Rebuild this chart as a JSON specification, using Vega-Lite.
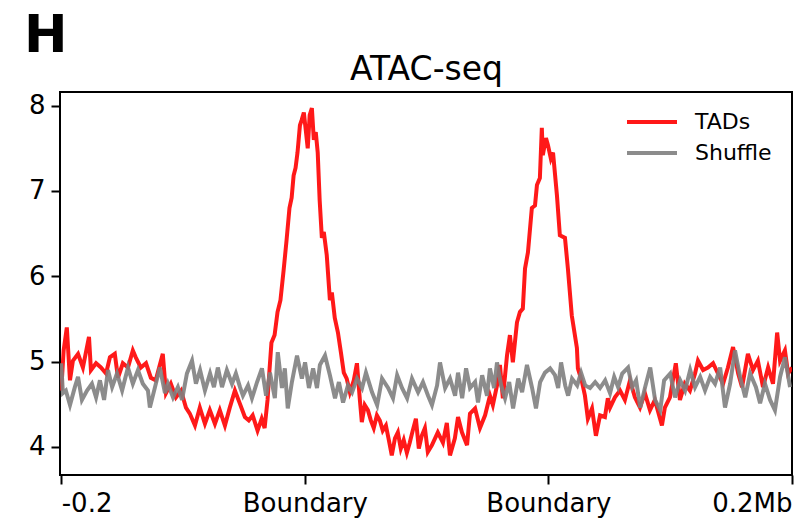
{
  "$schema": "https://vega.github.io/schema/vega-lite/v6.json",
  "width": 732,
  "height": 383,
  "autosize": {"type": "none"},
  "padding": {"left": 60, "top": 92, "right": 9, "bottom": 51},
  "background": "white",
  "title": {
    "text": "H",
    "anchor": "start",
    "frame": "group",
    "dx": -36,
    "offset": -51,
    "baseline": "alphabetic",
    "font": "DejaVu Sans",
    "fontSize": 52,
    "fontWeight": "bold",
    "color": "black"
  },
  "config": {
    "font": "DejaVu Sans",
    "view": {"stroke": "black", "strokeWidth": 2},
    "axis": {
      "grid": false,
      "domain": false,
      "labelFont": "DejaVu Sans",
      "labelFontSize": 26,
      "labelColor": "black",
      "tickColor": "black",
      "tickWidth": 2,
      "tickSize": 9,
      "titleFont": "DejaVu Sans",
      "titleColor": "black",
      "titleFontWeight": "normal"
    },
    "legend": {
      "labelFont": "DejaVu Sans",
      "labelFontSize": 22,
      "labelColor": "black"
    }
  },
  "datasets": {
    "tads": [
      {"bin": 0, "value": 4.66}, {"bin": 1, "value": 5.13}, {"bin": 2.3, "value": 5.4}, {"bin": 3.6, "value": 4.78},
      {"bin": 4.8, "value": 5.01}, {"bin": 6.9, "value": 5.09}, {"bin": 8.9, "value": 4.93}, {"bin": 11.4, "value": 5.29},
      {"bin": 12.2, "value": 4.9}, {"bin": 14.3, "value": 4.98}, {"bin": 16.3, "value": 4.93}, {"bin": 18.4, "value": 4.86},
      {"bin": 20, "value": 5.05}, {"bin": 22, "value": 5.09}, {"bin": 23.3, "value": 4.81}, {"bin": 25.3, "value": 4.98},
      {"bin": 27.4, "value": 4.93}, {"bin": 29.4, "value": 5.13}, {"bin": 30.6, "value": 5.05}, {"bin": 32.7, "value": 4.93},
      {"bin": 34.8, "value": 4.98}, {"bin": 36.8, "value": 4.81}, {"bin": 38.8, "value": 4.78}, {"bin": 41.7, "value": 5.09},
      {"bin": 43, "value": 4.63}, {"bin": 45, "value": 4.74}, {"bin": 47.1, "value": 4.58}, {"bin": 49.2, "value": 4.66},
      {"bin": 51.2, "value": 4.46}, {"bin": 52.8, "value": 4.39}, {"bin": 54.9, "value": 4.25}, {"bin": 56.9, "value": 4.46},
      {"bin": 59, "value": 4.27}, {"bin": 61, "value": 4.43}, {"bin": 63.1, "value": 4.27}, {"bin": 65.1, "value": 4.43},
      {"bin": 67.2, "value": 4.25}, {"bin": 69.2, "value": 4.46}, {"bin": 71.3, "value": 4.66}, {"bin": 73.3, "value": 4.51},
      {"bin": 75.4, "value": 4.35}, {"bin": 77, "value": 4.31}, {"bin": 78.6, "value": 4.37}, {"bin": 80.6, "value": 4.19},
      {"bin": 82.3, "value": 4.33}, {"bin": 83.5, "value": 4.22}, {"bin": 84.7, "value": 4.55}, {"bin": 85.5, "value": 4.9},
      {"bin": 86.3, "value": 5.22}, {"bin": 87.6, "value": 5.31}, {"bin": 88.8, "value": 5.58}, {"bin": 90, "value": 5.72},
      {"bin": 91.3, "value": 6.07}, {"bin": 92.5, "value": 6.42}, {"bin": 93.7, "value": 6.8}, {"bin": 94.6, "value": 6.92},
      {"bin": 95.4, "value": 7.18}, {"bin": 96.2, "value": 7.27}, {"bin": 97, "value": 7.45}, {"bin": 98, "value": 7.77},
      {"bin": 98.7, "value": 7.83}, {"bin": 99.6, "value": 7.92}, {"bin": 100.4, "value": 7.71}, {"bin": 101.2, "value": 7.5},
      {"bin": 102, "value": 7.89}, {"bin": 102.9, "value": 7.97}, {"bin": 103.7, "value": 7.6}, {"bin": 104.5, "value": 7.69},
      {"bin": 105.3, "value": 7.45}, {"bin": 106.1, "value": 6.89}, {"bin": 107, "value": 6.45}, {"bin": 107.8, "value": 6.52},
      {"bin": 109, "value": 6.25}, {"bin": 110.3, "value": 5.72}, {"bin": 111.1, "value": 5.81}, {"bin": 112.3, "value": 5.51},
      {"bin": 113.6, "value": 5.34}, {"bin": 114.8, "value": 5.11}, {"bin": 116, "value": 4.87}, {"bin": 117.2, "value": 4.8},
      {"bin": 118.5, "value": 4.64}, {"bin": 120.1, "value": 4.78}, {"bin": 121.4, "value": 4.98}, {"bin": 122.6, "value": 4.55},
      {"bin": 123.4, "value": 4.29}, {"bin": 124.6, "value": 4.49}, {"bin": 125.9, "value": 4.43}, {"bin": 127.1, "value": 4.31},
      {"bin": 128.3, "value": 4.22}, {"bin": 129.6, "value": 4.37}, {"bin": 130.8, "value": 4.31}, {"bin": 132, "value": 4.19},
      {"bin": 133.3, "value": 4.25}, {"bin": 134.5, "value": 4.08}, {"bin": 135.7, "value": 3.9}, {"bin": 137, "value": 4.1},
      {"bin": 138.2, "value": 4.17}, {"bin": 139.4, "value": 3.98}, {"bin": 140.6, "value": 4.08}, {"bin": 141.9, "value": 3.93},
      {"bin": 143.1, "value": 4.05}, {"bin": 144.3, "value": 4.19}, {"bin": 145.6, "value": 4.33}, {"bin": 146.8, "value": 3.98},
      {"bin": 148, "value": 4.13}, {"bin": 149.3, "value": 4.22}, {"bin": 150.5, "value": 3.94}, {"bin": 152.2, "value": 4.02},
      {"bin": 154.6, "value": 4.17}, {"bin": 156.7, "value": 4.05}, {"bin": 158.3, "value": 4.28}, {"bin": 159.6, "value": 3.9},
      {"bin": 161.6, "value": 4.1}, {"bin": 162.9, "value": 4.35}, {"bin": 164.5, "value": 4.17}, {"bin": 166.6, "value": 4.02},
      {"bin": 167.8, "value": 4.39}, {"bin": 169.9, "value": 4.45}, {"bin": 171.9, "value": 4.22}, {"bin": 174, "value": 4.37},
      {"bin": 176, "value": 4.6}, {"bin": 177.2, "value": 4.49}, {"bin": 178.9, "value": 4.72}, {"bin": 180.1, "value": 4.96},
      {"bin": 181.3, "value": 4.57}, {"bin": 183, "value": 5.07}, {"bin": 184.2, "value": 5.31}, {"bin": 185.4, "value": 4.99},
      {"bin": 187.1, "value": 5.46}, {"bin": 188.3, "value": 5.58}, {"bin": 189.5, "value": 5.62}, {"bin": 190.4, "value": 6.09},
      {"bin": 191.6, "value": 6.28}, {"bin": 193.2, "value": 6.8}, {"bin": 194.5, "value": 6.83}, {"bin": 195.3, "value": 7.07},
      {"bin": 196.5, "value": 7.15}, {"bin": 197.3, "value": 7.74}, {"bin": 197.7, "value": 7.42}, {"bin": 199, "value": 7.62},
      {"bin": 199.8, "value": 7.54}, {"bin": 201, "value": 7.38}, {"bin": 201.9, "value": 7.45}, {"bin": 203.5, "value": 6.95},
      {"bin": 204.7, "value": 6.48}, {"bin": 206.8, "value": 6.45}, {"bin": 208, "value": 6.09}, {"bin": 209.6, "value": 5.54},
      {"bin": 211.7, "value": 5.16}, {"bin": 212.1, "value": 4.92}, {"bin": 213.8, "value": 4.76}, {"bin": 215, "value": 4.6},
      {"bin": 216.2, "value": 4.33}, {"bin": 217.9, "value": 4.45}, {"bin": 219.5, "value": 4.13}, {"bin": 221.2, "value": 4.37},
      {"bin": 223.2, "value": 4.35}, {"bin": 224.4, "value": 4.57}, {"bin": 225.3, "value": 4.46}, {"bin": 227.3, "value": 4.58},
      {"bin": 229.4, "value": 4.66}, {"bin": 231.4, "value": 4.55}, {"bin": 233.5, "value": 4.78}, {"bin": 235.5, "value": 4.58},
      {"bin": 237.6, "value": 4.46}, {"bin": 239.6, "value": 4.63}, {"bin": 241.7, "value": 4.43}, {"bin": 243.7, "value": 4.55},
      {"bin": 246.6, "value": 4.25}, {"bin": 247.8, "value": 4.46}, {"bin": 249.9, "value": 4.58}, {"bin": 252.3, "value": 4.98},
      {"bin": 254, "value": 4.55}, {"bin": 256, "value": 4.74}, {"bin": 258.1, "value": 4.66}, {"bin": 260.2, "value": 4.86},
      {"bin": 261.4, "value": 5.01}, {"bin": 263.5, "value": 4.9}, {"bin": 265.5, "value": 4.93}, {"bin": 267.6, "value": 4.98},
      {"bin": 269.6, "value": 4.86}, {"bin": 271.7, "value": 4.74}, {"bin": 273.7, "value": 4.93}, {"bin": 275.8, "value": 5.17},
      {"bin": 277.9, "value": 4.86}, {"bin": 279.5, "value": 4.7}, {"bin": 281.9, "value": 5.09}, {"bin": 284, "value": 4.9},
      {"bin": 286, "value": 5.01}, {"bin": 288.1, "value": 4.7}, {"bin": 290.2, "value": 4.93}, {"bin": 292.2, "value": 4.74},
      {"bin": 293.9, "value": 5.34}, {"bin": 295.1, "value": 5.01}, {"bin": 297.1, "value": 5.13}, {"bin": 298.4, "value": 4.86},
      {"bin": 300, "value": 4.93}
    ],
    "shuffle": [
      {"bin": 0, "value": 4.98}, {"bin": 0.7, "value": 4.63}, {"bin": 1.9, "value": 4.66}, {"bin": 3.6, "value": 4.49},
      {"bin": 5.6, "value": 4.7}, {"bin": 6.9, "value": 4.82}, {"bin": 8.5, "value": 4.55}, {"bin": 10.6, "value": 4.66},
      {"bin": 12.6, "value": 4.74}, {"bin": 14.3, "value": 4.58}, {"bin": 15.9, "value": 4.78}, {"bin": 17.6, "value": 4.55},
      {"bin": 19.2, "value": 4.9}, {"bin": 20.9, "value": 4.7}, {"bin": 22.9, "value": 4.86}, {"bin": 25, "value": 4.66},
      {"bin": 27.4, "value": 4.93}, {"bin": 29.4, "value": 4.74}, {"bin": 31.5, "value": 4.9}, {"bin": 33.5, "value": 4.74},
      {"bin": 35.6, "value": 4.66}, {"bin": 36.4, "value": 4.46}, {"bin": 38.5, "value": 4.7}, {"bin": 40.5, "value": 4.93},
      {"bin": 42.6, "value": 4.63}, {"bin": 43.8, "value": 4.74}, {"bin": 45.9, "value": 4.58}, {"bin": 47.9, "value": 4.7},
      {"bin": 49.6, "value": 4.55}, {"bin": 51.6, "value": 4.86}, {"bin": 53.7, "value": 5.01}, {"bin": 55.3, "value": 4.74},
      {"bin": 57, "value": 4.9}, {"bin": 59, "value": 4.66}, {"bin": 61.1, "value": 4.86}, {"bin": 62.7, "value": 4.7},
      {"bin": 64.3, "value": 4.93}, {"bin": 66, "value": 4.7}, {"bin": 68, "value": 4.9}, {"bin": 70.1, "value": 4.74},
      {"bin": 71.7, "value": 4.86}, {"bin": 73.4, "value": 4.7}, {"bin": 74.6, "value": 4.6}, {"bin": 76.7, "value": 4.72},
      {"bin": 78.3, "value": 4.57}, {"bin": 80.4, "value": 4.76}, {"bin": 82.4, "value": 4.92}, {"bin": 84.1, "value": 4.6},
      {"bin": 85.7, "value": 4.87}, {"bin": 87.7, "value": 4.57}, {"bin": 88.9, "value": 5.11}, {"bin": 90.6, "value": 4.69},
      {"bin": 91.8, "value": 4.92}, {"bin": 93, "value": 4.45}, {"bin": 94.7, "value": 4.76}, {"bin": 96.8, "value": 5.07},
      {"bin": 98.8, "value": 4.8}, {"bin": 100.1, "value": 4.99}, {"bin": 101.7, "value": 4.69}, {"bin": 103.4, "value": 4.92},
      {"bin": 105, "value": 4.69}, {"bin": 106.2, "value": 4.96}, {"bin": 108.3, "value": 5.07}, {"bin": 110.3, "value": 4.84},
      {"bin": 112.4, "value": 4.57}, {"bin": 114, "value": 4.76}, {"bin": 115.7, "value": 4.52}, {"bin": 117.7, "value": 4.72},
      {"bin": 119.4, "value": 4.64}, {"bin": 121.4, "value": 4.8}, {"bin": 123.5, "value": 4.69}, {"bin": 125.1, "value": 4.87},
      {"bin": 127.6, "value": 4.64}, {"bin": 129.7, "value": 4.49}, {"bin": 131.7, "value": 4.8}, {"bin": 134.2, "value": 4.69},
      {"bin": 136.2, "value": 4.57}, {"bin": 137.9, "value": 4.84}, {"bin": 139.9, "value": 4.69}, {"bin": 142, "value": 4.57},
      {"bin": 144, "value": 4.8}, {"bin": 146.5, "value": 4.64}, {"bin": 148.5, "value": 4.76}, {"bin": 150.6, "value": 4.6},
      {"bin": 152.2, "value": 4.49}, {"bin": 154.3, "value": 4.72}, {"bin": 155.5, "value": 4.99}, {"bin": 157.6, "value": 4.69},
      {"bin": 159.6, "value": 4.8}, {"bin": 161.7, "value": 4.6}, {"bin": 162.9, "value": 4.87}, {"bin": 164.6, "value": 4.57},
      {"bin": 166.2, "value": 4.92}, {"bin": 167.8, "value": 4.69}, {"bin": 169.9, "value": 4.76}, {"bin": 171.1, "value": 4.52},
      {"bin": 172.8, "value": 4.84}, {"bin": 174.8, "value": 4.6}, {"bin": 176, "value": 4.92}, {"bin": 177.7, "value": 4.69},
      {"bin": 178.9, "value": 4.99}, {"bin": 180.6, "value": 4.72}, {"bin": 182.2, "value": 4.57}, {"bin": 183.9, "value": 4.76},
      {"bin": 185.5, "value": 4.45}, {"bin": 187.6, "value": 4.8}, {"bin": 189.2, "value": 4.64}, {"bin": 191.2, "value": 4.96},
      {"bin": 193.3, "value": 4.69}, {"bin": 194.9, "value": 4.45}, {"bin": 196.6, "value": 4.76}, {"bin": 198.6, "value": 4.87},
      {"bin": 200.7, "value": 4.92}, {"bin": 202.7, "value": 4.84}, {"bin": 204, "value": 4.69}, {"bin": 205.2, "value": 4.99},
      {"bin": 206.9, "value": 4.72}, {"bin": 208.1, "value": 4.6}, {"bin": 209.7, "value": 4.8}, {"bin": 211.8, "value": 4.72},
      {"bin": 213.4, "value": 4.87}, {"bin": 215.1, "value": 4.72}, {"bin": 217.1, "value": 4.69}, {"bin": 219.2, "value": 4.76},
      {"bin": 221.2, "value": 4.69}, {"bin": 223.3, "value": 4.78}, {"bin": 225.3, "value": 4.63}, {"bin": 227, "value": 4.82},
      {"bin": 228.6, "value": 4.7}, {"bin": 230.3, "value": 4.86}, {"bin": 232.7, "value": 4.93}, {"bin": 234.4, "value": 4.7},
      {"bin": 236, "value": 4.78}, {"bin": 237.7, "value": 4.46}, {"bin": 239.7, "value": 4.7}, {"bin": 241.8, "value": 4.93},
      {"bin": 243.8, "value": 4.55}, {"bin": 245.9, "value": 4.43}, {"bin": 247.5, "value": 4.78}, {"bin": 250, "value": 4.86},
      {"bin": 252, "value": 4.58}, {"bin": 254.1, "value": 4.78}, {"bin": 256.1, "value": 4.66}, {"bin": 258.2, "value": 4.9},
      {"bin": 260.2, "value": 4.7}, {"bin": 262.3, "value": 4.82}, {"bin": 264.3, "value": 4.66}, {"bin": 266.4, "value": 4.82},
      {"bin": 268.4, "value": 4.74}, {"bin": 270.5, "value": 4.93}, {"bin": 272.5, "value": 4.46}, {"bin": 274.6, "value": 4.74},
      {"bin": 276.6, "value": 5.13}, {"bin": 278.7, "value": 4.82}, {"bin": 280.8, "value": 4.58}, {"bin": 282.8, "value": 4.86},
      {"bin": 285.2, "value": 4.7}, {"bin": 286.9, "value": 4.51}, {"bin": 288.9, "value": 4.74}, {"bin": 291, "value": 4.55},
      {"bin": 293, "value": 4.43}, {"bin": 295.1, "value": 4.82}, {"bin": 297.1, "value": 5.05}, {"bin": 299.2, "value": 4.7}
    ]
  },
  "layer": [
    {
      "data": {"name": "tads"},
      "mark": {"type": "line", "strokeWidth": 4, "opacity": 0.9, "clip": true},
      "encoding": {
        "x": {
          "field": "bin",
          "type": "quantitative",
          "scale": {"domain": [-0.5, 300], "nice": false, "zero": false},
          "axis": {
            "orient": "bottom",
            "title": null,
            "values": [0, 100, 200, 300],
            "labelExpr": "datum.value == 0 ? '-0.2' : datum.value == 300 ? '0.2Mb' : 'Boundary'",
            "labelFlush": 5,
            "labelPadding": 6
          }
        },
        "y": {
          "field": "value",
          "type": "quantitative",
          "scale": {"domain": [3.67, 8.16], "nice": false, "zero": false},
          "axis": {"title": null, "values": [4, 5, 6, 7, 8], "format": "d", "labelPadding": 6}
        },
        "color": {
          "datum": "TADs",
          "type": "nominal",
          "scale": {"domain": ["TADs", "Shuffle"], "range": ["#ff0000", "#808080"]},
          "legend": {
            "title": null,
            "orient": "none",
            "legendX": 580,
            "legendY": 18,
            "symbolType": "M-2.5,0H2.5",
            "symbolSize": 400,
            "symbolStrokeWidth": 4,
            "symbolOpacity": 0.9,
            "labelOffset": 31,
            "rowPadding": 8
          }
        }
      }
    },
    {
      "data": {"name": "shuffle"},
      "mark": {"type": "line", "strokeWidth": 4, "opacity": 0.9, "clip": true},
      "encoding": {
        "x": {
          "field": "bin",
          "type": "quantitative",
          "axis": {
            "orient": "top",
            "title": "ATAC-seq",
            "titleFontSize": 33,
            "titlePadding": 6,
            "labels": false,
            "ticks": false
          }
        },
        "y": {"field": "value", "type": "quantitative"},
        "color": {"datum": "Shuffle", "type": "nominal"}
      }
    }
  ],
  "resolve": {"axis": {"x": "independent"}}
}
